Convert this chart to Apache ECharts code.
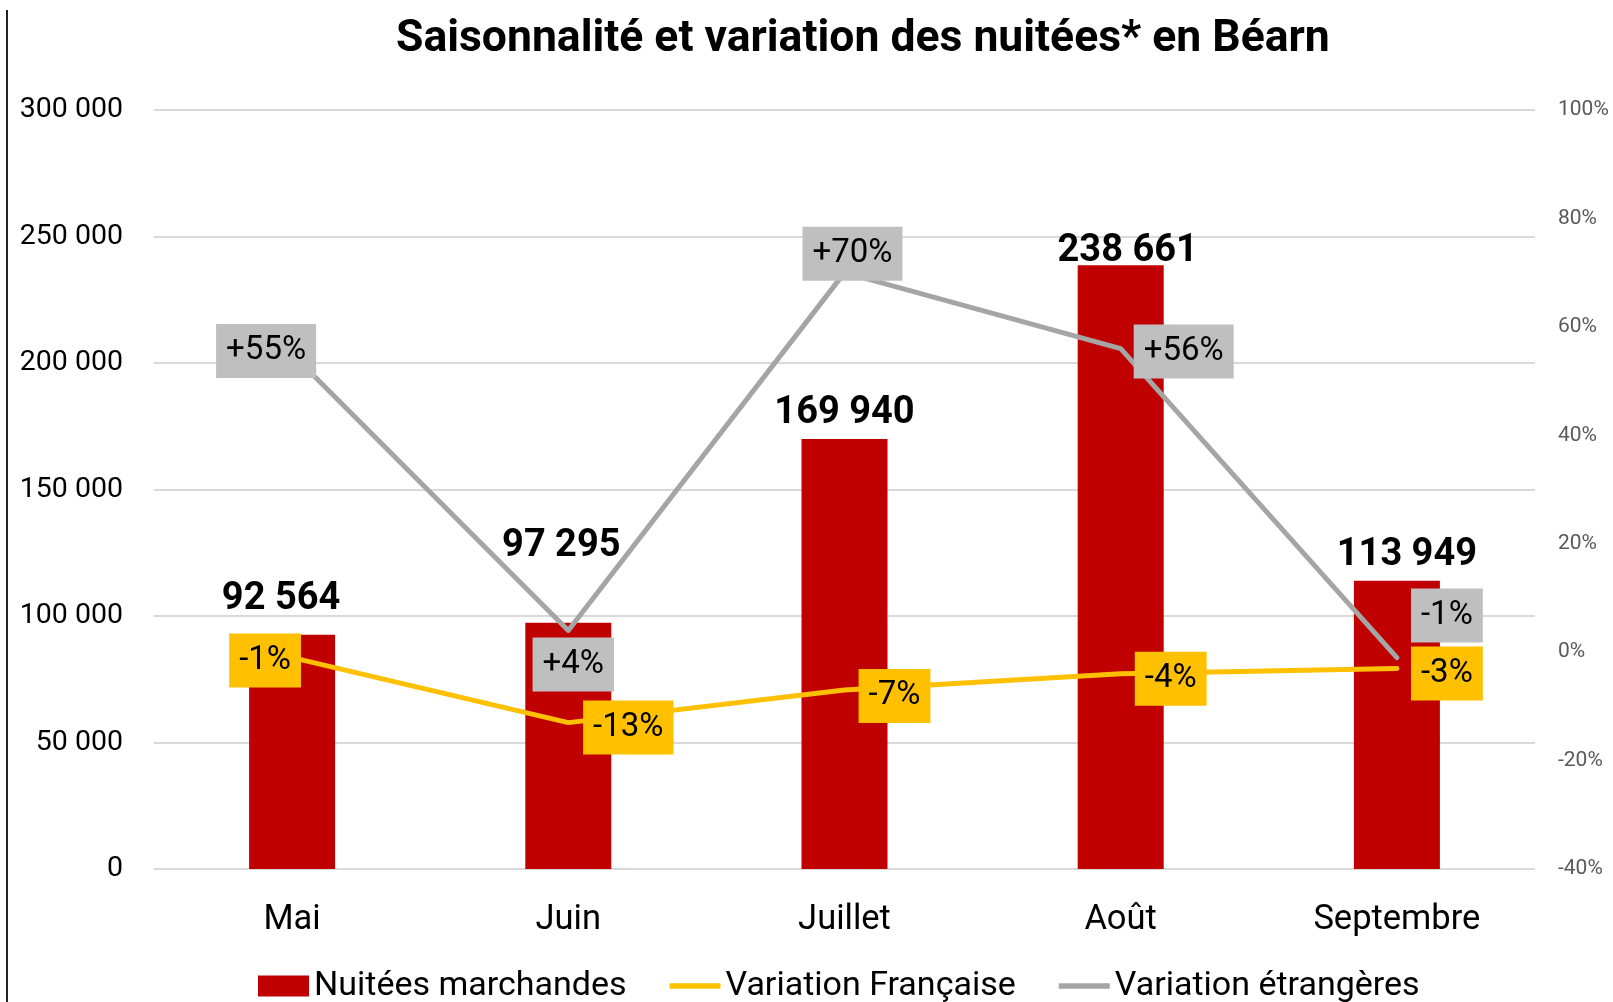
<!DOCTYPE html>
<html>
<head>
<meta charset="utf-8">
<title>Saisonnalité et variation des nuitées</title>
<script src="https://cdn.jsdelivr.net/npm/echarts@6/dist/echarts.min.js"></script>
<style>
  html, body { margin: 0; padding: 0; background: #fff; }
  .wrap { position: relative; width: 1613px; height: 1002px; }
  .bord { position: absolute; left: 6px; top: 10px; width: 2px; height: 992px; background: #222; }
  #chartmain { width: 1613px; height: 1002px; }
</style>
</head>
<body>
<div class="wrap">
  <div id="chartmain"></div>
  <div class="bord"></div>
</div>
<script>
  // données
  let mois = ['Mai', 'Juin', 'Juillet', 'Août', 'Septembre'];
  let nuitees = [92564, 97295, 169940, 238661, 113949];
  let varFrancaise = [-0.01, -0.13, -0.07, -0.04, -0.03];
  let varEtrangeres = [0.55, 0.04, 0.70, 0.56, -0.01];

  // décalage des étiquettes (px)
  let offNuitees = [[-11, -15], [-7, -56], [0, -6], [7, 6], [10, -5]];
  let offFrancaise = [[-27, 3], [60, 5], [50, 6], [50, 5], [50, 5]];
  let offEtrangeres = [[-26, -3], [5, 34], [8, -19], [63, 3], [50, -42]];

  let font = 'Roboto';

  function espace(v) {
    return String(v).replace(/\B(?=(\d{3})+(?!\d))/g, ' ');
  }
  function pct(v) {
    let n = Math.round(v * 100);
    return (n > 0 ? '+' : '') + n + '%';
  }

  function withOffsets(values, offs) {
    let out = [];
    for (var i = 0; i < values.length; i++) {
      out.push({ value: values[i], label: { offset: offs[i] } });
    }
    return out;
  }

  let chartmain = echarts.init(document.getElementById('chartmain'));
  chartmain.setOption({
    animation: false,
    textStyle: { fontFamily: font },
    title: {
      text: 'Saisonnalité et variation des nuitées* en Béarn',
      left: 391,
      top: 12,
      textStyle: { fontFamily: font, fontSize: 44.5, fontWeight: 'bold', color: '#000' }
    },
    legend: {
      left: 253,
      top: 964,
      itemWidth: 51,
      itemHeight: 21,
      itemGap: 43,
      itemStyle: { borderWidth: 0 },
      textStyle: { fontFamily: font, fontSize: 34, color: '#000' },
      data: [
        { name: 'Nuitées marchandes', icon: 'rect' },
        { name: 'Variation Française', icon: 'path://M0,0h54v6h-54z' },
        { name: 'Variation étrangères', icon: 'path://M0,0h54v6h-54z' }
      ]
    },
    grid: {
      left: 154,
      right: 78,
      top: 110,
      bottom: 133
    },
    xAxis: {
      type: 'category',
      data: mois,
      axisLine: { show: false },
      axisTick: { show: false },
      axisLabel: { fontFamily: font, fontSize: 34.5, color: '#000', margin: 34 }
    },
    yAxis: [
      {
        type: 'value',
        min: 0,
        max: 300000,
        interval: 50000,
        axisLine: { show: false },
        axisTick: { show: false },
        axisLabel: {
          fontFamily: font, fontSize: 28.5, color: '#000', margin: 31,
          padding: [6, 0, 0, 0], formatter: espace
        },
        splitLine: { lineStyle: { color: '#d9d9d9', width: 2 } }
      },
      {
        type: 'value',
        min: -0.4,
        max: 1,
        interval: 0.2,
        axisLine: { show: false },
        axisTick: { show: false },
        splitLine: { show: false },
        axisLabel: {
          fontFamily: font, fontSize: 21, color: '#595959', margin: 23,
          padding: [6, 0, 0, 0],
          formatter: function (v) { return Math.round(v * 100) + '%'; }
        }
      }
    ],
    series: [
      {
        name: 'Nuitées marchandes',
        type: 'bar',
        barWidth: 86,
        itemStyle: { color: '#C00000' },
        label: {
          show: true,
          position: 'top',
          distance: 0,
          fontFamily: font,
          fontSize: 38,
          fontWeight: 'bold',
          lineHeight: 40,
          color: '#000',
          formatter: function (p) { return espace(p.value); }
        },
        data: withOffsets(nuitees, offNuitees)
      },
      {
        name: 'Variation Française',
        type: 'line',
        yAxisIndex: 1,
        symbol: 'circle',
        symbolSize: 1,
        itemStyle: { color: '#FFC000' },
        lineStyle: { color: '#FFC000', width: 5, cap: 'round', join: 'round' },
        label: {
          show: true,
          position: 'inside',
          fontFamily: font,
          fontSize: 33,
          lineHeight: 34,
          color: '#000',
          backgroundColor: '#FFC000',
          padding: [10, 10],
          formatter: function (p) { return pct(p.value); }
        },
        data: withOffsets(varFrancaise, offFrancaise)
      },
      {
        name: 'Variation étrangères',
        type: 'line',
        yAxisIndex: 1,
        symbol: 'circle',
        symbolSize: 1,
        itemStyle: { color: '#A5A5A5' },
        lineStyle: { color: '#A5A5A5', width: 5, cap: 'round', join: 'round' },
        label: {
          show: true,
          position: 'inside',
          fontFamily: font,
          fontSize: 33,
          lineHeight: 34,
          color: '#000',
          backgroundColor: '#BFBFBF',
          padding: [10, 10],
          formatter: function (p) { return pct(p.value); }
        },
        data: withOffsets(varEtrangeres, offEtrangeres)
      }
    ]
  });
</script>
</body>
</html>
